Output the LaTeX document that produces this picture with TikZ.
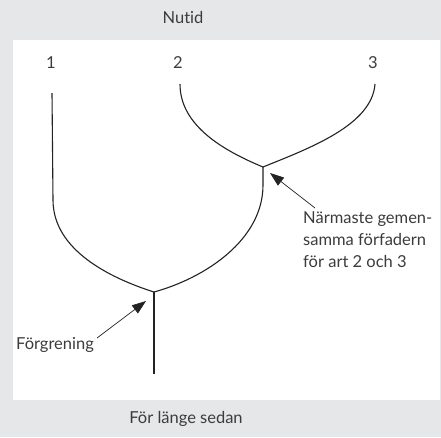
\documentclass[tikz,border=0pt]{standalone}
\usepackage{fontspec}
\setmainfont{Lato}[Ligatures=NoCommon]
\usetikzlibrary{arrows.meta}
\definecolor{bandgray}{RGB}{230,231,233}
\definecolor{inkgray}{RGB}{35,35,35}
\definecolor{textgray}{RGB}{60,60,60}
\tikzset{
  lbl/.style={font=\fontsize{16.5}{22}\selectfont, text=textgray, inner sep=0pt},
  branch/.style={line width=1.1pt, inkgray},
  pointer/.style={line width=0.7pt, inkgray, -{Triangle[length=14pt,width=10pt]}}
}
\begin{document}
\begin{tikzpicture}[x=1pt,y=-1pt]
  \fill[bandgray] (0,0) rectangle (441,437);
  \fill[white] (13,40) rectangle (440,400);
  \useasboundingbox (0,0) rectangle (441,437);
  % labels
  \node[lbl] (now) at (183,17) {Nutid};
  \node[lbl] (past) at (186,419) {För länge sedan};
  \node[lbl] (s1) at (51,63) {1};
  \node[lbl] (s2) at (178,63) {2};
  \node[lbl] (s3) at (373,63) {3};
  % tree
  \coordinate (top1) at (52,93);
  \coordinate (top2) at (180,84);
  \coordinate (top3) at (375,84);
  \coordinate (fork) at (154,292);
  \coordinate (anc) at (263,167);
  \coordinate (root) at (154,374);
  \draw[branch] (top1) -- (53,200) .. controls (53,250) and (110,278) .. (fork);
  \draw[branch] (fork) .. controls (205,278) and (263,240) .. (263,185) -- (anc);
  \draw[branch] (top2) .. controls (180,125) and (222,150) .. (anc);
  \draw[branch] (top3) .. controls (372,125) and (310,148) .. (anc);
  \draw[branch] (fork) -- (root);
  % annotations
  \node[lbl, anchor=west] (forktxt) at (16,345) {Förgrening};
  \node[lbl, anchor=north west, align=left] (anctxt) at (303,211)
    {Närmaste gemen-\\samma förfadern\\för art 2 och 3};
  \draw[pointer] (97,338) -- (146,301);
  \draw[pointer] (315,208) -- (270,173);
\end{tikzpicture}
\end{document}
